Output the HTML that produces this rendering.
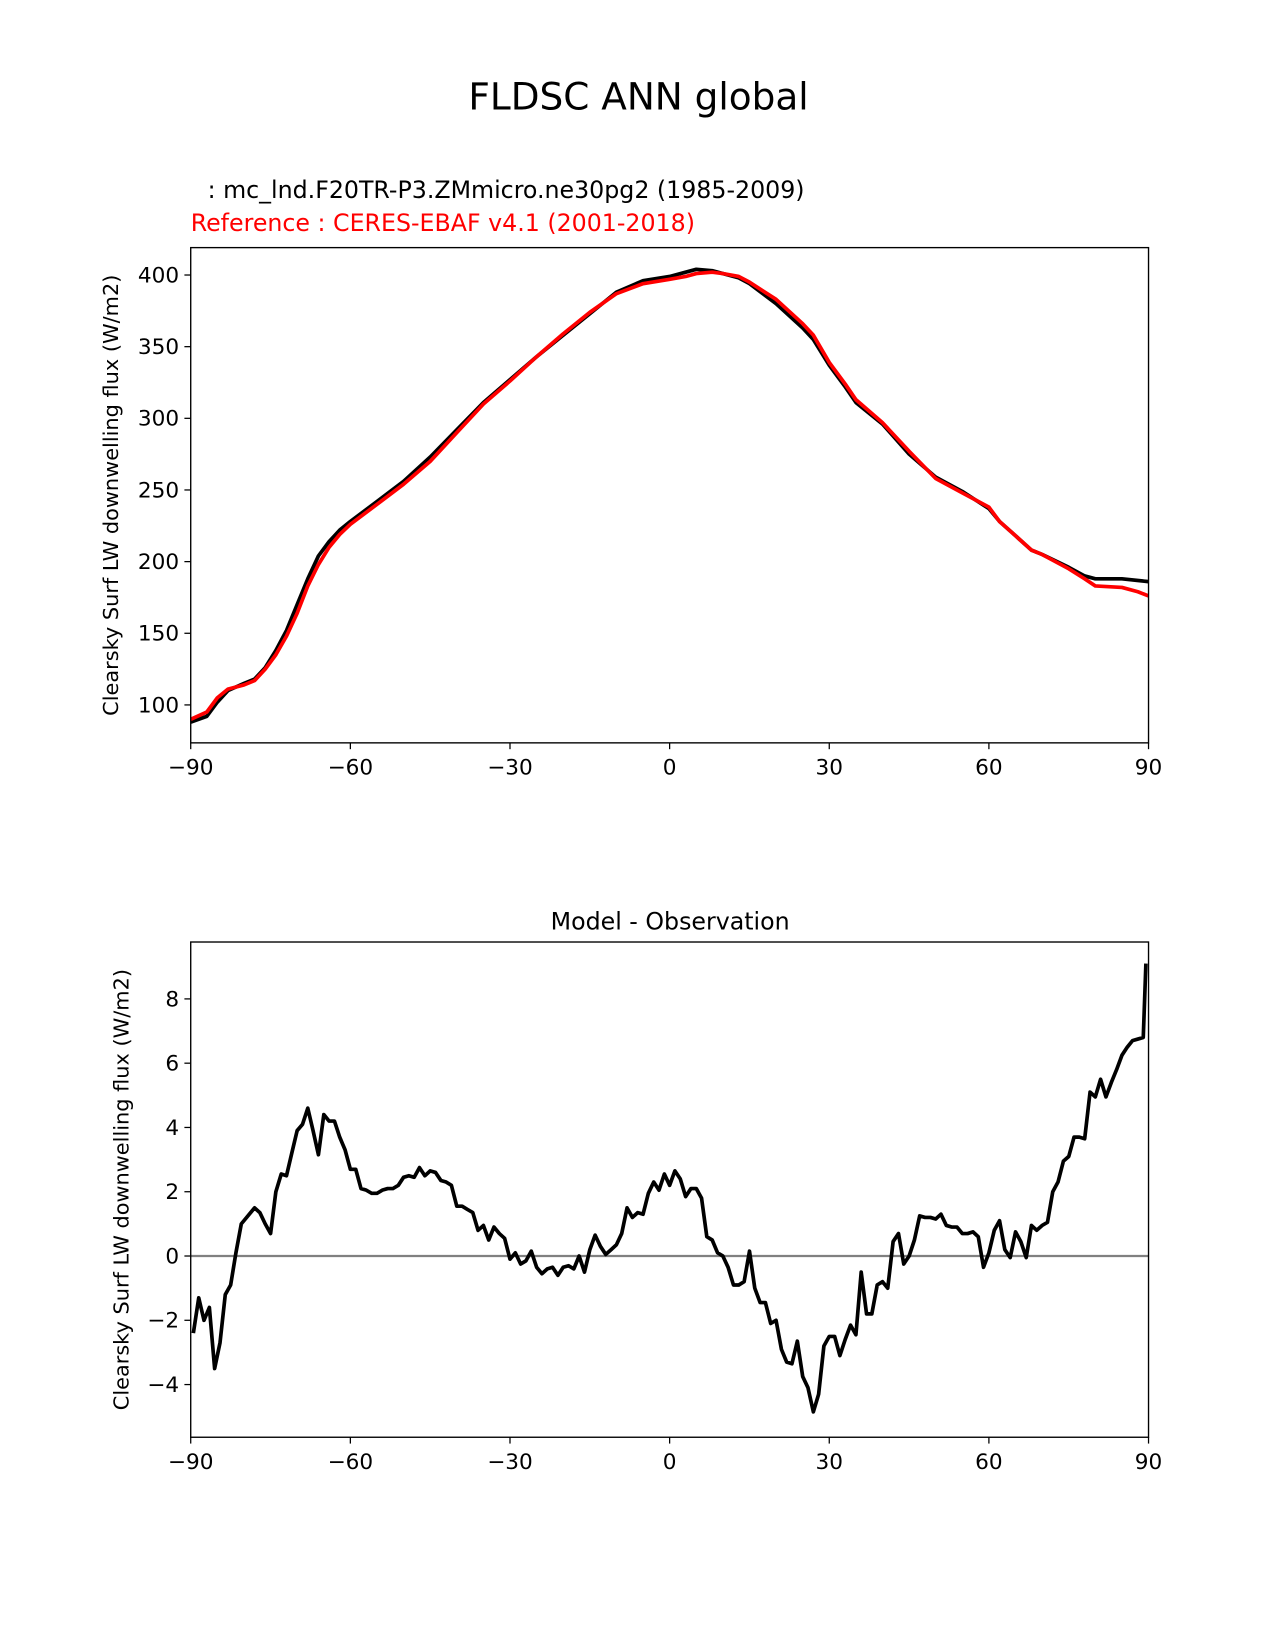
<!DOCTYPE html>
<html><head><meta charset="utf-8"><style>
body{margin:0;background:#fff}
svg{display:block;font-family:"DejaVu Sans","Liberation Sans",sans-serif}
</style></head><body>
<svg id="fig" width="1275" height="1650">
<g transform="scale(1.0537)">
<text x="606" y="104" font-size="35.5" text-anchor="middle">FLDSC ANN global</text>
<text x="197" y="188" font-size="22.5">: mc_lnd.F20TR-P3.ZMmicro.ne30pg2 (1985-2009)</text>
<text x="181" y="219" font-size="22.5" fill="red">Reference : CERES-EBAF v4.1 (2001-2018)</text>
<text x="636" y="882" font-size="22.5" text-anchor="middle">Model - Observation</text>
<g id="top"></g>
<g id="bot"></g>
</g>
</svg>
<script>
const latTop=[-90,-87,-85,-83,-80,-78,-76,-74,-72,-70,-68,-66,-64,-62,-60,-55,-50,-45,-40,-35,-30,-25,-20,-15,-10,-5,0,3,5,8,10,13,15,20,25,27,30,33,35,40,45,50,55,60,62,65,68,70,75,78,80,85,90];
const modelVals=[88,92,102,110,115,118,126,138,152,170,188,204,214,222,228,242,256,273,292,311,327,343,358,373,388,396,399,402,404,403,401,398,394,380,363,355,337,322,311,296,275,259,249,237,228,218,208,205,196,190,188,188,186];
const latObs=[-90,-87,-85,-83,-80,-78,-76,-74,-72,-70,-68,-66,-64,-62,-60,-55,-50,-45,-40,-35,-30,-25,-20,-15,-10,-5,0,3,5,8,10,13,15,20,25,27,30,33,35,40,45,50,55,60,62,65,68,70,75,78,80,85,88,90];
const obsVals=[90,95,105,111,114,117,125,135,148,164,183,198,210,219,226,240,254,270,290,310,326,343,359,374,387,394,397,399,401,402,401,399,395,383,366,358,339,324,313,297,277,258,248,238,228,218,208,205,195,188,183,182,179,176];
const latDiff=[-89.5,-88.5,-87.5,-86.5,-85.5,-84.5,-83.5,-82.5,-81.5,-80.5,-79,-78,-77,-76,-75,-74,-73,-72,-71,-70,-69,-68,-67,-66,-65,-64,-63,-62,-61,-60,-59,-58,-57,-56,-55,-54,-53,-52,-51,-50,-49,-48,-47,-46,-45,-44,-43,-42,-41,-40,-39,-38,-37,-36,-35,-34,-33,-32,-31,-30,-29,-28,-27,-26,-25,-24,-23,-22,-21,-20,-19,-18,-17,-16,-15,-14,-13,-12,-11,-10,-9,-8,-7,-6,-5,-4,-3,-2,-1,0,1,2,3,4,5,6,7,8,9,10,11,12,13,14,15,16,17,18,19,20,21,22,23,24,25,26,27,28,29,30,31,32,33,34,35,36,37,38,39,40,41,42,43,44,45,46,47,48,49,50,51,52,53,54,55,56,57,58,59,60,61,62,63,64,65,66,67,68,69,70,71,72,73,74,75,76,77,78,79,80,81,82,83,84,85,86,87,88,89,89.5];
const diffVals=[-2.4,-1.3,-2.0,-1.6,-3.5,-2.7,-1.2,-0.9,0.1,1.0,1.3,1.5,1.35,1.0,0.7,2.0,2.55,2.5,3.2,3.9,4.1,4.6,3.9,3.15,4.4,4.2,4.2,3.7,3.3,2.7,2.7,2.1,2.05,1.95,1.95,2.05,2.1,2.1,2.2,2.45,2.5,2.45,2.75,2.5,2.65,2.6,2.35,2.3,2.2,1.55,1.55,1.45,1.35,0.8,0.95,0.5,0.9,0.7,0.55,-0.1,0.1,-0.25,-0.15,0.15,-0.35,-0.55,-0.4,-0.35,-0.6,-0.35,-0.3,-0.4,0,-0.5,0.2,0.65,0.3,0.05,0.2,0.35,0.7,1.5,1.2,1.35,1.3,1.95,2.3,2.05,2.55,2.2,2.65,2.4,1.85,2.1,2.1,1.8,0.6,0.5,0.1,0.0,-0.35,-0.9,-0.9,-0.8,0.15,-1.0,-1.45,-1.45,-2.1,-2.0,-2.9,-3.3,-3.35,-2.65,-3.75,-4.1,-4.85,-4.3,-2.8,-2.5,-2.5,-3.1,-2.6,-2.15,-2.45,-0.5,-1.8,-1.8,-0.9,-0.8,-1.0,0.45,0.7,-0.25,0.0,0.5,1.25,1.2,1.2,1.15,1.3,0.95,0.9,0.9,0.7,0.7,0.75,0.6,-0.35,0.1,0.8,1.1,0.2,-0.05,0.75,0.45,-0.05,0.95,0.8,0.95,1.05,2.0,2.3,2.95,3.1,3.7,3.7,3.65,5.1,4.95,5.5,4.95,5.4,5.8,6.25,6.5,6.7,6.75,6.8,9.1];
const xTicks=[-90,-60,-30,0,30,60,90];
const xTickLabels=["\u221290","\u221260","\u221230","0","30","60","90"];
const topYTicks=[100,150,200,250,300,350,400];
const botYTicks=[-4,-2,0,2,4,6,8];
const botYTickLabels=["\u22124","\u22122","0","2","4","6","8"];

const NS="http://www.w3.org/2000/svg";
function mk(parent,tag,attrs){const e=document.createElementNS(NS,tag);for(const k in attrs)e.setAttribute(k,attrs[k]);parent.appendChild(e);return e;}
const X0=181,X1=1090;
const sx=v=>X0+(v+90)/180*(X1-X0);
function axes(g,top,bot,sy,yticks,ylabels,ytitleX,prefix){
  const f=mk(g,'rect',{x:X0,y:top,width:X1-X0,height:bot-top,fill:'none',stroke:'#000','stroke-width':1.3});
  
  
  xTicks.forEach((t,i)=>{
    mk(g,'line',{x1:sx(t),x2:sx(t),y1:bot,y2:bot+6,stroke:'#000','stroke-width':1.2});
    const tx=mk(g,'text',{x:sx(t),y:bot+30,'font-size':20.5,'text-anchor':'middle'});
    tx.textContent=xTickLabels[i];
    
    
  });
  yticks.forEach((t,i)=>{
    mk(g,'line',{x1:X0-6,x2:X0,y1:sy(t),y2:sy(t),stroke:'#000','stroke-width':1.2});
    const tx=mk(g,'text',{x:X0-11,y:sy(t)+7,'font-size':20.5,'text-anchor':'end'});
    tx.textContent=ylabels[i];
    
    
  });
  const yt=mk(g,'text',{x:0,y:0,'font-size':19.8,'text-anchor':'middle',transform:`translate(${ytitleX},${(top+bot)/2}) rotate(-90)`});
  yt.textContent='Clearsky Surf LW downwelling flux (W/m2)';
  
  
}
function line(g,xs,ys,sy,color,w,name){
  const d=xs.map((x,i)=>(i?'L':'M')+sx(x).toFixed(1)+','+sy(ys[i]).toFixed(1)).join('');
  const p=mk(g,'path',{d:d,fill:'none',stroke:color,'stroke-width':w,'stroke-linejoin':'round'});
  
  
}
const gT=document.getElementById('top');
const syT=v=>669-(v-100)/300*408;
const clip=mk(gT,'clipPath',{id:'ct'});mk(clip,'rect',{x:X0,y:235,width:X1-X0,height:470});
const gTl=mk(gT,'g',{'clip-path':'url(#ct)'});
line(gTl,latTop,modelVals,syT,'#000',3.5,'model-line');
line(gTl,latObs,obsVals,syT,'red',3.5,'reference-line');
axes(gT,235,705,syT,topYTicks,topYTicks.map(String),112,'top');
const gB=document.getElementById('bot');
const syB=v=>1192-v*30.5;
const z=mk(gB,'line',{x1:X0,x2:X1,y1:syB(0),y2:syB(0),stroke:'#808080','stroke-width':2.2});


line(gB,latDiff,diffVals,syB,'#000',3.5,'difference-line');
axes(gB,894,1364,syB,botYTicks,botYTickLabels,122,'bottom');
</script>
</body></html>
